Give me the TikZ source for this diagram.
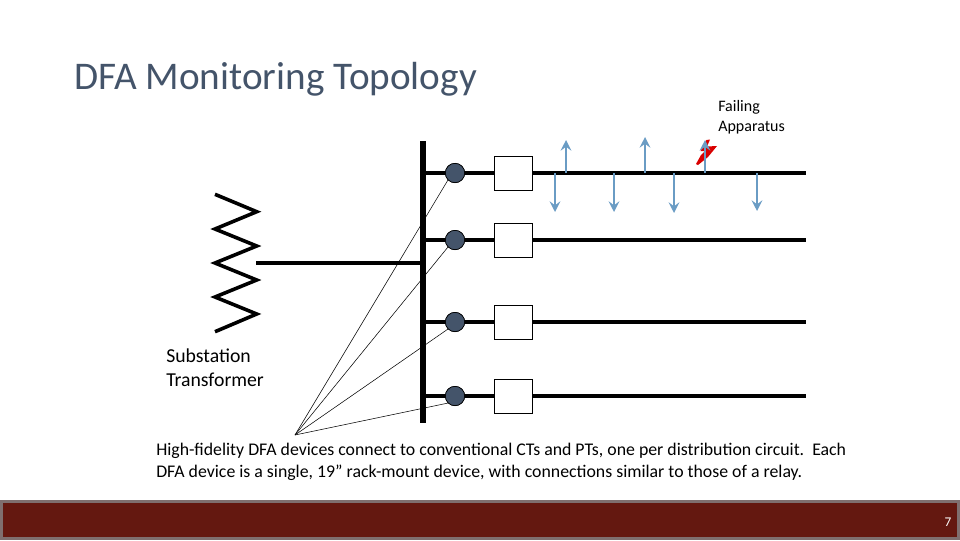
\documentclass[tikz,border=0pt]{standalone}
\usepackage{fontspec}
\setmainfont{Carlito}
\usetikzlibrary{arrows.meta}
\definecolor{barred}{HTML}{641810}
\definecolor{bargray}{HTML}{7F6F6F}
\definecolor{titleblue}{HTML}{44546A}
\definecolor{arrowblue}{HTML}{6A9CC4}
\definecolor{ctblue}{HTML}{44546A}
\tikzset{
  thick line/.style={line width=2.6pt,black},
  bus/.style={line width=4.6pt,black},
  ct/.style={circle,draw=black,line width=0.5pt,fill=ctblue,minimum size=14.5pt,inner sep=0pt},
  relay/.style={rectangle,draw=black,line width=0.5pt,fill=white,minimum width=28.5pt,minimum height=25.5pt,inner sep=0pt},
  feed/.style={line width=1.6pt,arrowblue,-{Stealth[length=8pt,width=8pt,inset=3pt]}},
  wire/.style={line width=0.4pt,black},
  label/.style={inner sep=0pt,anchor=north west,align=left,text=black},
}
\begin{document}
\begin{tikzpicture}[x=0.75pt,y=-0.75pt]
\useasboundingbox (0,0) rectangle (960,540);
% footer
\node[rectangle,draw=bargray,line width=2pt,fill=barred,minimum width=717.5pt,minimum height=27.5pt,inner sep=0pt,anchor=center] (footer) at (480,520) {};
\node[inner sep=0pt,text=white,font=\fontsize{10}{12}\selectfont] (pagenum) at (948,522) {7};
% title
\node[label,text=titleblue,font=\fontsize{29.4}{34}\selectfont,anchor=west] (title) at (74,79) {DFA Monitoring Topology};
% named points
\coordinate (hub) at (295,435);
\coordinate (busT) at (423,141);
\coordinate (busB) at (423,423);
\coordinate (xfmr) at (256,263);
\coordinate (xfmrBus) at (423,263);
\foreach \i/\y in {1/173,2/240,3/322,4/396}{
  \coordinate (s\i) at (423,\y);
  \coordinate (e\i) at (806,\y);
  \node[ct] (c\i) at (455,\y) {};
  \node[relay] (r\i) at (513,\y) {};
}
% feeder lines
\foreach \i in {1,2,3,4}{
  \draw[thick line] (s\i) -- (e\i);
}
% wires
\draw[wire] (hub) -- (c1.225);
\draw[wire] (hub) -- (c2.225);
\draw[wire] (hub) -- (c3.225);
\draw[wire] (hub) -- (c4.225);
% bus and transformer
\draw[bus] (busT) -- (busB);
\draw[thick line] (xfmr) -- (xfmrBus);
\draw[line width=2.7pt,black,line join=miter,miter limit=10] (215,194.3) -- (256.7,211.7) -- (215,229) -- (256.7,246) -- (215,263) -- (256.7,280) -- (215,297) -- (256.7,314) -- (215,331.7);
% redraw devices above lines
\foreach \i/\y in {1/173,2/240,3/322,4/396}{
  \node[ct] at (455,\y) {};
  \node[relay] at (513,\y) {};
}
% fault bolt
\fill[red!85!black] (710,139.5) -- (707,146.5) -- (717,146) -- (708,157) -- (698,165) -- (696,164) -- (701,155) -- (705,151) -- (700.5,151) -- (706.5,140) -- cycle;
% feeder taps
\foreach \n/\x/\yend in {a/566/140,b/645/137,c/705/140,d/555/212,e/614/212,f/674/213,g/757/211}{
  \coordinate (t\n) at (\x,173);
  \coordinate (h\n) at (\x,\yend);
  \draw[feed] (t\n) -- (h\n);
}
% labels
\node[label,font=\fontsize{12}{15}\selectfont] (fail) at (718,100.5) {Failing\\Apparatus};
\node[label,font=\fontsize{14.8}{18}\selectfont] (sub) at (166,348.5) {Substation\\Transformer};
\node[label,font=\fontsize{13.35}{16.5}\selectfont] (desc) at (156,442.5) {High-fidelity DFA devices connect to conventional CTs and PTs, one per distribution circuit.\ \ Each\\DFA device is a single, 19” rack-mount device, with connections similar to those of a relay.};
\end{tikzpicture}
\end{document}
